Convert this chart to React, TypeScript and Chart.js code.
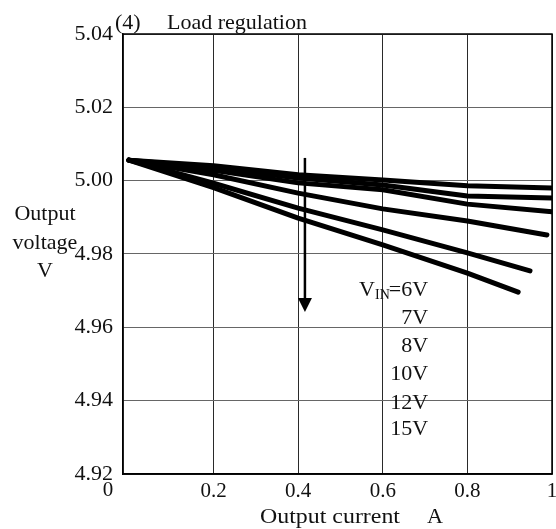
import React, { useEffect, useRef } from 'react';
import { Chart, registerables } from 'chart.js';

Chart.register(...registerables);

// ---- data ----
const SERIES_NAMES = ['6V', '7V', '8V', '10V', '12V', '15V'];
const CURRENT_POINTS = [0.0, 0.2, 0.4, 0.6, 0.8];
const CURRENT_END = [1.0, 1.0, 1.0, 0.988, 0.948, 0.92];
const V_6V = [5.0056, 5.0041, 5.0016, 5.0002, 4.9986, 4.9980];
const V_7V = [5.0056, 5.0035, 5.0007, 4.9988, 4.9958, 4.9953];
const V_8V = [5.0056, 5.0028, 4.9994, 4.9975, 4.9936, 4.9915];
const V_10V = [5.0056, 5.0016, 4.9966, 4.9923, 4.9890, 4.9852];
const V_12V = [5.0056, 4.9993, 4.9925, 4.9866, 4.9803, 4.9754];
const V_15V = [5.0056, 4.9981, 4.9898, 4.9825, 4.9748, 4.9696];
const SERIES_VALUES = [V_6V, V_7V, V_8V, V_10V, V_12V, V_15V];

const X_AXIS_MIN = -0.014;
const X_AXIS_MAX = 1;
const X_STEP = 0.2;
const Y_AXIS_MIN = 4.92;
const Y_AXIS_MAX = 5.04;
const Y_STEP = 0.02;

// arrow (current, voltage from -> to)
const ARROW_X = 0.416;
const ARROW_FROM = 5.0062;
const ARROW_TO = 4.9642;

// label annotations (right edge current, voltage centres)
const LABEL_RIGHT_X = 0.707;
const LABEL_TEXTS = ['=6V', '7V', '8V', '10V', '12V', '15V'];
const LABEL_Y = [4.9702, 4.9626, 4.9549, 4.9473, 4.9394, 4.9323];

const TITLE_NUM = '(4)';
const TITLE_TEXT = 'Load regulation';
const Y_TITLE = ['Output', 'voltage', 'V'];
const X_TITLE_MAIN = 'Output current';
const X_TITLE_UNIT = 'A';

const FONT = '"Liberation Serif", "Times New Roman", serif';

const isStep = (v: number) => Math.abs(v / X_STEP - Math.round(v / X_STEP)) < 1e-6;

export default function App() {
  const ref = useRef<HTMLCanvasElement | null>(null);

  useEffect(() => {
    const canvas = ref.current;
    if (!canvas) return;

    const datasets = SERIES_VALUES.map((vals, i) => ({
      label: SERIES_NAMES[i],
      data: vals.map((v, j) => ({
        x: j < CURRENT_POINTS.length ? CURRENT_POINTS[j] : CURRENT_END[i],
        y: v,
      })),
      borderColor: '#000',
      backgroundColor: '#000',
      borderWidth: 5,
      pointRadius: 0,
      tension: 0,
      borderCapStyle: 'round' as const,
      borderJoinStyle: 'round' as const,
      fill: false,
    }));

    const stretchText = (ctx: any, text: string, cx: number, y: number, targetW: number) => {
      const w = ctx.measureText(text).width;
      const sx = targetW / w;
      ctx.save();
      ctx.translate(cx, y);
      ctx.scale(sx, 1);
      ctx.textAlign = 'center';
      ctx.fillText(text, 0, 0);
      ctx.restore();
    };

    const annot = {
      id: 'annot',
      afterDatasetsDraw(chart: any) {
        const { ctx, scales } = chart;
        const xs = scales.x;
        const ys = scales.y;
        ctx.save();
        const ax = xs.getPixelForValue(ARROW_X);
        const ay0 = ys.getPixelForValue(ARROW_FROM);
        const ay1 = ys.getPixelForValue(ARROW_TO);
        ctx.strokeStyle = '#000';
        ctx.lineWidth = 2.5;
        ctx.beginPath();
        ctx.moveTo(ax, ay0);
        ctx.lineTo(ax, ay1 - 10);
        ctx.stroke();
        ctx.fillStyle = '#000';
        ctx.beginPath();
        ctx.moveTo(ax - 7, ay1 - 14);
        ctx.lineTo(ax + 7, ay1 - 14);
        ctx.lineTo(ax, ay1);
        ctx.closePath();
        ctx.fill();
        ctx.restore();
      },
      afterDraw(chart: any) {
        const { ctx, scales, chartArea } = chart;
        const xs = scales.x;
        const ys = scales.y;
        ctx.save();
        ctx.strokeStyle = '#000';
        ctx.lineWidth = 1.5;
        ctx.strokeRect(chartArea.left, chartArea.top, chartArea.right - chartArea.left, chartArea.bottom - chartArea.top);

        ctx.fillStyle = '#111';
        ctx.textBaseline = 'alphabetic';
        ctx.font = `22px ${FONT}`;
        ctx.textAlign = 'left';
        ctx.fillText(TITLE_NUM, chartArea.left - 8, chartArea.top - 5);
        ctx.fillText(TITLE_TEXT, chartArea.left + 44, chartArea.top - 5);

        ctx.textAlign = 'center';
        const yBase = [220, 249, 277];
        Y_TITLE.forEach((t, i) => ctx.fillText(t, 45, yBase[i]));

        // x title (stretched like the reference)
        ctx.font = `20px ${FONT}`;
        stretchText(ctx, X_TITLE_MAIN, 330, 523, 140);
        stretchText(ctx, X_TITLE_UNIT, 435, 523, 16);

        // "0" tick label, shifted left like the reference
        ctx.font = `21px ${FONT}`;
        ctx.textAlign = 'center';
        ctx.textBaseline = 'middle';
        ctx.fillText('0', xs.getPixelForValue(0) - 21, chartArea.bottom + 16);

        // series labels
        const rx = xs.getPixelForValue(LABEL_RIGHT_X);
        ctx.textAlign = 'right';
        LABEL_TEXTS.forEach((t, i) => {
          const py = ys.getPixelForValue(LABEL_Y[i]);
          ctx.font = `22px ${FONT}`;
          ctx.fillText(t, rx, py);
          if (i === 0) {
            const w = ctx.measureText(t).width;
            ctx.font = `14px ${FONT}`;
            ctx.fillText('IN', rx - w + 1, py + 5);
            const wi = ctx.measureText('IN').width;
            ctx.font = `22px ${FONT}`;
            ctx.fillText('V', rx - w - wi + 1, py);
          }
        });
        ctx.restore();
      },
    };

    const chart = new Chart(canvas, {
      type: 'line',
      data: { datasets },
      options: {
        animation: false,
        responsive: false,
        devicePixelRatio: 1,
        layout: { padding: { top: 34, right: 4, left: 0, bottom: 0 } },
        plugins: { legend: { display: false }, tooltip: { enabled: false }, title: { display: false } },
        scales: {
          x: {
            type: 'linear',
            min: X_AXIS_MIN,
            max: X_AXIS_MAX,
            ticks: {
              stepSize: X_STEP,
              autoSkip: false,
              maxRotation: 0,
              padding: 5,
              color: '#111',
              font: { family: FONT, size: 21 },
              callback: (v: any) => {
                const n = Number(v);
                if (n <= 1e-9 || !isStep(n)) return '';
                return Math.abs(n - 1) < 1e-9 ? '1' : n.toFixed(1);
              },
            },
            grid: {
              color: (c: any) => {
                const v = c.tick ? c.tick.value : 1;
                return v <= 1e-9 || !isStep(v) ? 'rgba(0,0,0,0)' : '#2a2a2a';
              },
              lineWidth: 1,
              drawTicks: false,
            },
            border: { display: true, color: '#000', width: 1.5 },
            afterFit: (s: any) => { s.height = 55; s.paddingLeft = 0; s.paddingRight = 0; },
          },
          y: {
            type: 'linear',
            min: Y_AXIS_MIN,
            max: Y_AXIS_MAX,
            ticks: {
              stepSize: Y_STEP,
              padding: 10,
              color: '#111',
              font: { family: FONT, size: 22 },
              callback: (v: any) => Number(v).toFixed(2),
            },
            grid: { color: '#666', lineWidth: 1, drawTicks: false },
            border: { display: true, color: '#000', width: 1.5 },
            afterFit: (s: any) => { s.width = 123; s.paddingTop = 0; s.paddingBottom = 0; },
          },
        },
      },
      plugins: [annot],
    });

    return () => chart.destroy();
  }, []);

  return (
    <div style={{ position: 'fixed', left: 0, top: 0, width: 556, height: 529, background: '#fff' }}>
      <canvas ref={ref} width={556} height={529} style={{ width: 556, height: 529, display: 'block' }} />
    </div>
  );
}
